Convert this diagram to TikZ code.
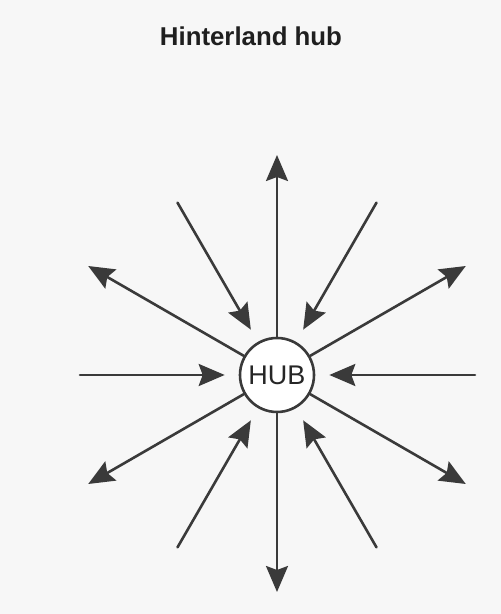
\documentclass[tikz,border=0pt]{standalone}
\usepackage{fontspec}
\setmainfont{Liberation Sans}
\usetikzlibrary{arrows.meta}
\definecolor{inkgray}{RGB}{58,58,58}
\definecolor{paper}{RGB}{247,247,247}

\begin{document}
\begin{tikzpicture}[line cap=round,line join=round,>={Stealth[length=26pt,width=22pt,inset=4pt]},x=1pt,y=1pt,
  spoke/.style={draw=inkgray,line width=2.6pt},
  inflow/.style={spoke,->,shorten >=14pt},
  outflow/.style={spoke,->}]
		\fill[paper] (0,0) rectangle (501,614);
		\useasboundingbox (0,0) rectangle (501,614);
		% titre
		\node[anchor=base,font=\bfseries\fontsize{25.8}{30}\selectfont,text=black!88] (titre) at (251,568) {Hinterland hub};
		% hub
		\node[circle,draw=inkgray,line width=2.6pt,fill=white,minimum size=74pt,inner sep=0pt,text=black!85,font=\fontsize{27}{30}\selectfont] (hub) at (277,239) {HUB};
		% sorties
		\foreach \n/\a/\r in {n/90/220, s/-90/217, ne/30/218, nw/150/218, se/-30/218, sw/-150/218}{
			\coordinate (out-\n) at ([shift={(\a:\r)}]hub.center);
			\draw[outflow] (hub.\a) -- (out-\n);
		}
		% entrees
		\foreach \n/\a/\r in {e/0/198, w/180/197, nne/60/199, nnw/120/199, sse/-60/199, ssw/-120/199}{
			\coordinate (in-\n) at ([shift={(\a:\r)}]hub.center);
			\draw[inflow] (in-\n) -- (hub);
		}
\end{tikzpicture}
\end{document}
